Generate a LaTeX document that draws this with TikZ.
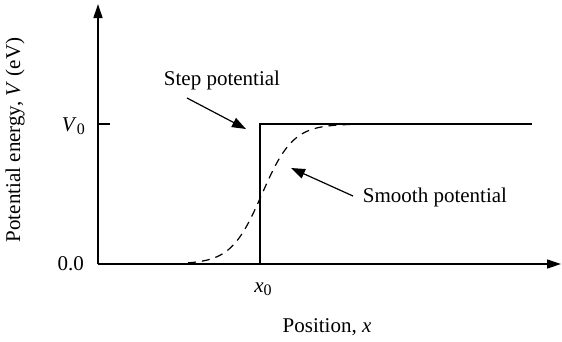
\documentclass[tikz,border=0pt]{standalone}
\usepackage{fontspec}
\setmainfont{Liberation Serif}
\usetikzlibrary{arrows.meta}
\newcommand{\subz}{\raisebox{-0.35ex}{\fontsize{16}{16}\selectfont 0}}
\begin{document}
\begin{tikzpicture}[x=1pt,y=-1pt,
  axis/.style={line width=1.3pt,-{Triangle[length=14pt,width=9pt]}},
  pointer/.style={line width=1.2pt,-{Triangle[length=14pt,width=10pt]}},
  curve/.style={line width=1.2pt},
  lbl/.style={font=\fontsize{21}{25}\selectfont,inner sep=0pt}]
\useasboundingbox (0,0) rectangle (562,341);
\coordinate (O) at (98,264);
\coordinate (ytop) at (98,4);
\coordinate (xend) at (561,264);
\draw[axis] (O) -- (ytop);
\draw[axis] (O) -- (xend);
\coordinate (tick) at (110,124);
\draw[curve] (98,124) -- (tick);
% step potential
\coordinate (s0) at (260,264);
\coordinate (s1) at (260,124);
\coordinate (s2) at (532,124);
\draw[curve] (s0) -- (s1) -- (s2);
% smooth potential
\draw[curve,dash pattern=on 8pt off 6pt] plot[domain=188:350,samples=80,smooth] (\x,{264-140*(1+tanh((\x-262)/31))/2});
% labels
\node[lbl,anchor=east] (v0) at (85,126) {\textit{V}\subz};
\node[lbl,anchor=east] (zero) at (84,264) {0.0};
\node[lbl] (x0) at (263,289) {\textit{x}\subz};
\node[lbl] (xlab) at (327,327) {Position, \textit{x}};
\node[lbl,rotate=90] (ylab) at (15,140) {Potential energy, \textit{V} (eV)};
\node[lbl] (step) at (222,80) {Step potential};
\node[lbl] (smooth) at (435,197) {Smooth potential};
\coordinate (sa) at (187,98);
\coordinate (sb) at (246,129);
\draw[pointer] (sa) -- (sb);
\coordinate (ma) at (353,196);
\coordinate (mb) at (291,168);
\draw[pointer] (ma) -- (mb);
\end{tikzpicture}
\end{document}
